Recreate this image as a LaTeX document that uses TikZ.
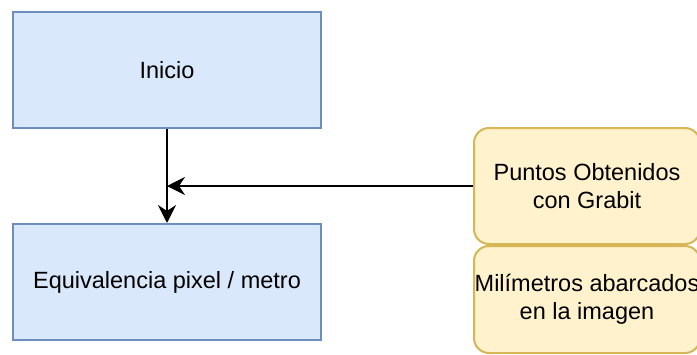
\documentclass[tikz,border=0pt]{standalone}
\usepackage{fontspec}
\setmainfont{Liberation Sans}
\usetikzlibrary{arrows.meta}
\definecolor{bluefill}{HTML}{DAE8FC}
\definecolor{bluedraw}{HTML}{6C8EBF}
\definecolor{yellowfill}{HTML}{FFF2CC}
\definecolor{yellowdraw}{HTML}{D6B656}
\begin{document}
\begin{tikzpicture}[x=1pt,y=-1pt,
  every node/.style={font=\fontsize{23.5}{28}\selectfont, align=center, inner sep=0pt},
  processbox/.style={draw=bluedraw, fill=bluefill, line width=2pt,
    minimum width=308pt, minimum height=116pt},
  databox/.style={draw=yellowdraw, fill=yellowfill, line width=2pt,
    rounded corners=15pt, minimum width=226pt},
  flow/.style={draw=black, line width=2.4pt,
    -{Stealth[length=18pt, width=18pt, inset=6pt]}}]
  \useasboundingbox (0,0) rectangle (697,354);
  \fill[white] (0,0) rectangle (697,354);

  % process steps
  \node[processbox] (inicio) at (167,70) {Inicio};
  \node[processbox] (equiv) at (167,282) {Equivalencia pixel / metro};

  % input data
  \node[databox, minimum height=116pt] (puntos) at (587,186) {Puntos Obtenidos\\con Grabit};
  \node[databox, minimum height=107pt] (milim) at (587,299.5) {Milímetros abarcados\\en la imagen};

  % connectors
  \coordinate (join) at (puntos.west -| inicio.south);
  \draw[flow] (inicio.south) -- (equiv.north);
  \draw[flow] (puntos.west) -- (join);
\end{tikzpicture}
\end{document}
